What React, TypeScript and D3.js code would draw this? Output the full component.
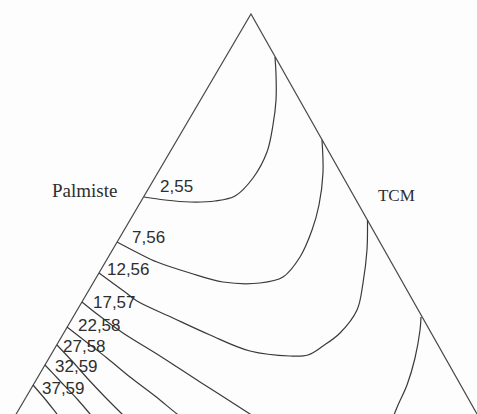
import React from "react";
import * as d3 from "d3";

const WIDTH = 477;
const HEIGHT = 414;

// Ternary frame (data units): base from 0 to 100, height 0 to 100
const apexVertex: [number, number] = [50.95, 100];
const leftVertex: [number, number] = [0, 0];
const rightVertex: [number, number] = [100, 0];

const contourLabels = ["2,55", "7,56", "12,56", "17,57", "22,58", "27,58", "32,59", "37,59"];

// contour lines, in frame units
const contour255: [number, number][] = [
  [32.38, 63.4], [36.02, 62.8], [40.36, 62.4], [44.7, 62.6], [48.18, 63.6], [51.3, 67.2],
  [53.73, 72.4], [54.77, 77.8], [55.3, 82.8], [55.3, 87.8], [55.12, 91.4],
];
const contour756: [number, number][] = [
  [27.69, 54.4], [31.68, 52.0], [34.64, 50.4], [40.36, 48.2], [46.09, 46.4], [52.52, 46.2],
  [56.51, 47.4], [59.46, 51.4], [61.55, 56.8], [62.76, 61.8], [63.45, 68.2], [63.28, 74.8],
];
const contour1256: [number, number][] = [
  [24.57, 48.2], [29.08, 44.4], [31.16, 42.6], [37.41, 39.2], [43.84, 35.8], [50.78, 32.6],
  [57.73, 31.6], [60.85, 31.8], [63.45, 33.6], [66.41, 36.2], [69.36, 40.8], [70.4, 46.2],
  [71.09, 52.8], [71.18, 58.8],
];
const contour1757a: [number, number][] = [
  [21.61, 42.4], [24.22, 40.0], [28.73, 36.2], [35.16, 31.6], [42.1, 26.4], [50.78, 20.0], [52.86, 18.4],
];
const contour1757b: [number, number][] = [
  [80.47, 39.4], [80.3, 36.8], [79.43, 31.2], [78.04, 25.8], [76.48, 21.8], [75.43, 18.8],
];
const contour2258: [number, number][] = [
  [19.01, 37.4], [22.14, 34.6], [25.95, 31.2], [29.95, 27.4], [34.29, 23.6], [38.11, 20.0], [40.36, 18.0],
];
const contour2758: [number, number][] = [
  [17.27, 33.8], [19.88, 30.6], [22.66, 27.0], [25.61, 23.4], [28.56, 20.0], [30.3, 18.0],
];
const contour3259: [number, number][] = [
  [15.19, 29.8], [17.8, 26.6], [20.92, 22.8], [23.0, 20.0], [24.39, 18.0],
];
const contour3759: [number, number][] = [
  [13.11, 25.8], [15.19, 23.0], [17.27, 20.0], [18.66, 18.0],
];

const contourSegments: [number, number][][] = [
  contour255, contour756, contour1256, contour1757a, contour1757b,
  contour2258, contour2758, contour3259, contour3759,
];

// label anchors (frame units), in the same order as contourLabels
const labelAnchorX = [35.16, 30.3, 25.95, 23.52, 20.92, 18.32, 16.93, 14.67];
const labelAnchorY = [64.4, 54.2, 47.8, 41.3, 36.6, 32.4, 28.4, 24.0];

const axisNames = ["Palmiste", "TCM"];
const axisNameX = [16.41, 73.0];
const axisNameY = [63.4, 62.6];

export default function App() {
  const x = d3.scaleLinear().domain([0, 100]).range([-42.5, 533.5]);
  const y = d3.scaleLinear().domain([0, 100]).range([514, 14]);

  const line = d3
    .line<[number, number]>()
    .x((d) => x(d[0]))
    .y((d) => y(d[1]))
    .curve(d3.curveCatmullRom.alpha(0.5));

  const edge = d3
    .line<[number, number]>()
    .x((d) => x(d[0]))
    .y((d) => y(d[1]));

  const stroke = "#3a3a3a";

  return (
    <svg
      width={WIDTH}
      height={HEIGHT}
      style={{ position: "absolute", left: 0, top: 0, background: "#fdfdfd" }}
    >
      <rect x={0} y={0} width={WIDTH} height={HEIGHT} fill="#fdfdfd" />
      <path
        d={edge([leftVertex, apexVertex, rightVertex]) || ""}
        fill="none"
        stroke="#4a4a4a"
        strokeWidth={1.2}
        strokeLinejoin="miter"
      />
      {contourSegments.map((seg, i) => (
        <path key={i} d={line(seg) || ""} fill="none" stroke={stroke} strokeWidth={1.2} />
      ))}
      {contourLabels.map((t, i) => (
        <text
          key={t}
          x={x(labelAnchorX[i])}
          y={y(labelAnchorY[i])}
          fontFamily="'Liberation Sans', Arial, sans-serif"
          fontSize={17}
          fill="#2e2e2e"
        >
          {t}
        </text>
      ))}
      {axisNames.map((t, i) => (
        <text
          key={t}
          x={x(axisNameX[i])}
          y={y(axisNameY[i])}
          fontFamily="'Liberation Serif', 'Times New Roman', serif"
          fontSize={i === 0 ? 19 : 17}
          fill="#2e2e2e"
        >
          {t}
        </text>
      ))}
    </svg>
  );
}
